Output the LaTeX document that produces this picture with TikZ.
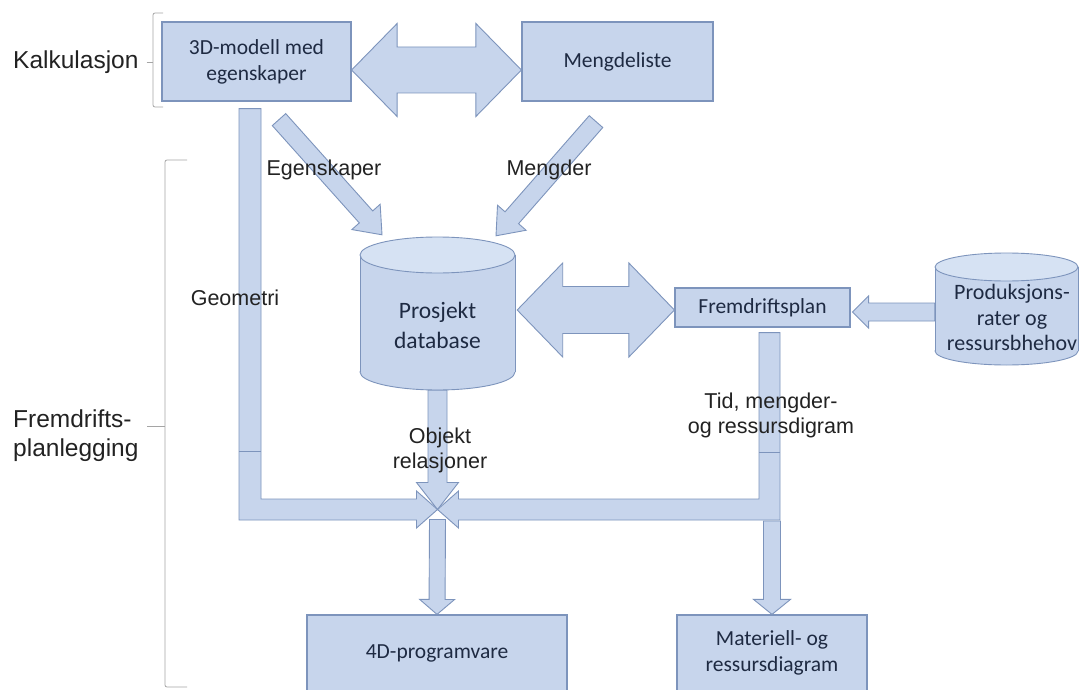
\documentclass[tikz,border=0pt]{standalone}
\usepackage{fontspec}
\setmainfont{Carlito}
\newfontfamily\lblfont{Liberation Sans}
\usetikzlibrary{calc}

\definecolor{boxfill}{RGB}{199,213,236}
\definecolor{capfill}{RGB}{214,226,243}
\definecolor{boxline}{RGB}{125,148,188}
\definecolor{boxtext}{RGB}{30,42,66}
\definecolor{lbltext}{RGB}{34,34,34}
\definecolor{bracecol}{RGB}{165,165,165}

\tikzset{
  blk/.style={fill=boxfill, draw=boxline, line width=0.9pt, line join=miter},
  box/.style={blk, line width=1.2pt, inner sep=0pt, align=center, text=boxtext,
    font=\fontsize{21.5}{26}\selectfont},
  cyltext/.style={inner sep=0pt, align=center, text=boxtext},
  lbl/.style={inner sep=0pt, align=center, text=lbltext,
    font=\lblfont\fontsize{21.5}{25}\selectfont},
  sidelbl/.style={inner sep=0pt, align=left, text=lbltext,
    font=\lblfont\fontsize{24.5}{29}\selectfont},
  bracket/.style={draw=bracecol, line width=0.8pt, rounded corners=2pt},
}

% block arrow: start, tip, shaft half width, head half width, head length
\newcommand{\blkarrow}[5]{%
  \coordinate (bas) at (#1);
  \coordinate (bat) at (#2);
  \coordinate (bab) at ($(bat)!#5!(bas)$);
  \path[blk] ($(bas)!#3!90:(bat)$) -- ($(bab)!#3!-90:(bas)$)
    -- ($(bab)!#4!-90:(bas)$) -- (bat) -- ($(bab)!#4!90:(bas)$)
    -- ($(bab)!#3!90:(bas)$) -- ($(bas)!#3!-90:(bat)$) -- cycle;
}
% double block arrow: tip A, tip B, shaft half width, head half width, head length
\newcommand{\dblarrow}[5]{%
  \coordinate (daa) at (#1);
  \coordinate (dab) at (#2);
  \coordinate (dba) at ($(daa)!#5!(dab)$);
  \coordinate (dbb) at ($(dab)!#5!(daa)$);
  \path[blk] (daa) -- ($(dba)!#4!90:(dab)$) -- ($(dba)!#3!90:(dab)$)
    -- ($(dbb)!#3!-90:(daa)$) -- ($(dbb)!#4!-90:(daa)$) -- (dab)
    -- ($(dbb)!#4!90:(daa)$) -- ($(dbb)!#3!90:(daa)$)
    -- ($(dba)!#3!-90:(dab)$) -- ($(dba)!#4!-90:(dab)$) -- cycle;
}

\begin{document}
\begin{tikzpicture}[x=1pt, y=-1pt]
\useasboundingbox (0,0) rectangle (1079,690);
\fill[white] (0,0) rectangle (1079,690);

% ---- rectangular boxes
\node[box, minimum width=189pt, minimum height=79pt] (m3d) at (256.5,61.5) {3D-modell med\\egenskaper};
\node[box, minimum width=191pt, minimum height=79pt] (mld) at (617.5,61.5) {Mengdeliste};
\node[box, minimum width=175pt, minimum height=39pt] (plan) at (762.5,307.5) {Fremdriftsplan};
\node[box, minimum width=260pt, minimum height=76pt] (p4d) at (437,653) {4D-programvare};
\node[box, minimum width=190pt, minimum height=76pt] (mat) at (772,653) {Materiell- og\\ressursdiagram};

% ---- project database cylinder
\fill[boxfill] (360,255) rectangle (515,372);
\path[blk] (437.5,372) ellipse [x radius=77.5, y radius=18];
\fill[boxfill] (360,255) rectangle (515,372);
\draw[boxline, line width=0.9pt] (360,255) -- (360,372) (515,255) -- (515,372);
\path[blk, fill=capfill] (437.5,255) ellipse [x radius=77.5, y radius=18];
\node[inner sep=0pt, minimum width=155pt, minimum height=153pt] (db) at (437.5,313.5) {};
\node[cyltext, font=\fontsize{23.5}{30}\selectfont] at ($(db.center)+(0,11.5)$) {Prosjekt\\database};

% ---- production rates cylinder
\fill[boxfill] (935,267) rectangle (1078,351);
\path[blk] (1006.5,351) ellipse [x radius=71.5, y radius=14];
\fill[boxfill] (935,267) rectangle (1078,351);
\draw[boxline, line width=0.9pt] (935,267) -- (935,351) (1078,267) -- (1078,351);
\path[blk, fill=capfill] (1006.5,267) ellipse [x radius=71.5, y radius=14];
\node[inner sep=0pt, minimum width=143pt, minimum height=112pt] (prod) at (1006.5,309) {};
\node[cyltext, font=\fontsize{22}{25.5}\selectfont] at ($(prod.center)+(5.5,8.5)$) {Produksjons-\\rater og\\ressursbhehov};

% ---- upper arrows
\dblarrow{$(m3d.east)+(0,8.5)$}{$(mld.west)+(0,8.5)$}{23pt}{46.5pt}{45.5pt}
\blkarrow{$(m3d.south)+(22.5,18)$}{$(db.north)+(-55.5,-2)$}{9pt}{19pt}{24pt}
\blkarrow{$(mld.south)+(-21.5,20)$}{$(db.north)+(58.5,-1)$}{9pt}{19pt}{24pt}
\dblarrow{$(db.east)+(2,-3.5)$}{$(plan.west)+(0,2.5)$}{23.5pt}{47pt}{45.5pt}
\blkarrow{$(prod.west)+(0,3)$}{$(plan.east)+(2,4.5)$}{9pt}{16pt}{16pt}

% ---- flows meeting at the junction
\coordinate (jn) at (437.5,509.5);
\coordinate (geo) at ($(m3d.south)+(-6.5,7)$);
\coordinate (tid) at ($(plan.south)+(7,5)$);

\blkarrow{$(jn)+(0,10)$}{p4d.north}{8pt}{17.5pt}{15pt}
\blkarrow{$(mat.north|-jn)+(0,11.5)$}{mat.north}{8.5pt}{18.5pt}{15pt}

% geometry: down from the model, then right
\path[blk] ($(geo)+(-11,0)$) -- ($(geo)+(11,0)$) -- ($(geo|-jn)+(11,-10.5)$)
  -- ($(jn)+(-21,-10.5)$) -- ($(jn)+(-21,-18.5)$) -- (jn)
  -- ($(jn)+(-21,18.5)$) -- ($(jn)+(-21,10.5)$) -- ($(geo|-jn)+(-11,10.5)$) -- cycle;
\draw[boxline, line width=0.9pt] ($(geo|-jn)+(-11,-58.5)$) -- ($(geo|-jn)+(11,-58.5)$);

% schedule data: down from the plan, then left
\path[blk] ($(tid)+(-10.5,0)$) -- ($(tid)+(10.5,0)$) -- ($(tid|-jn)+(10.5,10.5)$)
  -- ($(jn)+(21,10.5)$) -- ($(jn)+(21,18.5)$) -- (jn)
  -- ($(jn)+(21,-18.5)$) -- ($(jn)+(21,-10.5)$) -- ($(tid|-jn)+(-10.5,-10.5)$) -- cycle;
\draw[boxline, line width=0.9pt] ($(tid|-jn)+(-10.5,-57.5)$) -- ($(tid|-jn)+(10.5,-57.5)$);

% object relations: down from the database
\blkarrow{db.south}{jn}{9.5pt}{21pt}{27pt}

% ---- brackets and side labels
\node[sidelbl, anchor=west] (kalk) at (13,62) {Kalkulasjon};
\node[sidelbl, anchor=west] (fremd) at (13,435.5) {Fremdrifts-\\planlegging};
\draw[bracket] (163,13) -- (153,13) -- (153,107) -- (163,107);
\draw[bracket, rounded corners=0pt] ($(kalk.east)+(8,0)$) -- (153,62);
\draw[bracket] (187,160) -- (165,160) -- (165,687) -- (187,687);
\draw[bracket, rounded corners=0pt] (147,426) -- (165,426);

% ---- flow labels
\node[lbl] (lgeo) at (235,298) {Geometri};
\node[lbl] (legen) at (324,170) {Egenskaper};
\node[lbl] (lmeng) at (549,170) {Mengder};
\node[lbl] (lobj) at (440,450) {Objekt\\relasjoner};
\node[lbl] (ltid) at (771,415) {Tid, mengder-\\og ressursdigram};
\end{tikzpicture}
\end{document}
